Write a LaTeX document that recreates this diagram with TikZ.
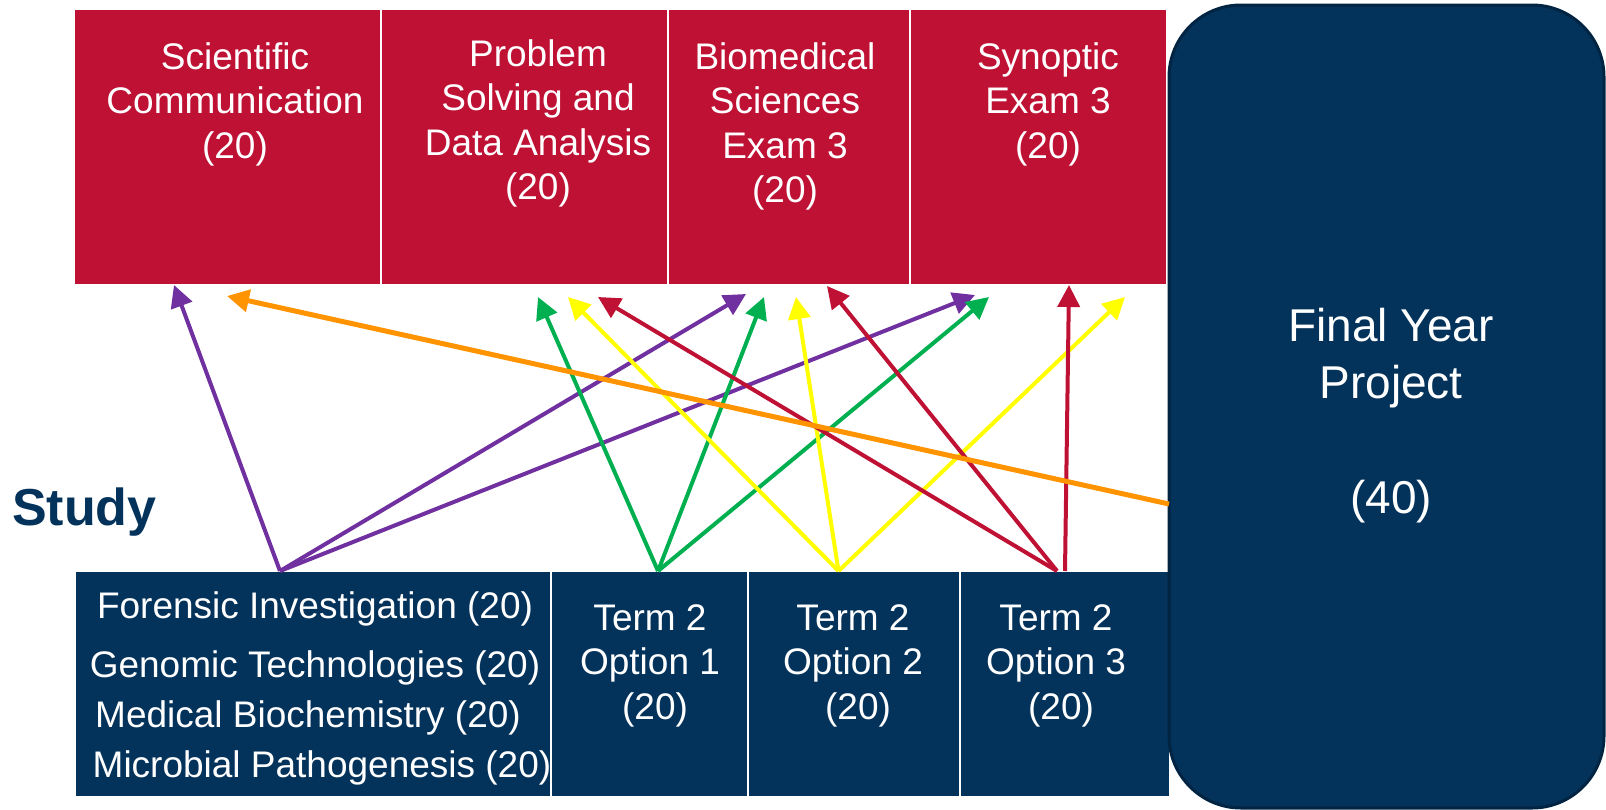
\documentclass[tikz,border=0pt]{standalone}
\usepackage{fontspec}
\setmainfont{Liberation Sans}
\usetikzlibrary{arrows.meta}

\definecolor{navy}{RGB}{3,50,90}
\definecolor{navyline}{RGB}{1,36,66}
\definecolor{crimson}{RGB}{190,17,52}
\definecolor{lnpurple}{RGB}{112,48,160}
\definecolor{lngreen}{RGB}{0,176,80}
\definecolor{lnyellow}{RGB}{255,255,0}
\definecolor{lnorange}{RGB}{255,147,0}

\tikzset{
  modbox/.style={fill=crimson, draw=white, line width=1.5pt, inner sep=0pt, outer sep=0pt},
  optbox/.style={fill=navy, draw=white, line width=1.5pt, inner sep=0pt, outer sep=0pt},
  boxtext/.style={text=white, align=center, anchor=north, inner sep=0pt,
    font=\fontsize{37}{44.5}\selectfont},
  link/.style={line width=4pt, -{Triangle[length=22pt,width=22pt]}},
}

\begin{document}
\begin{tikzpicture}[x=1pt,y=-1pt]
\useasboundingbox (0,0) rectangle (1606,809);
% year three assessments
\node[modbox, minimum width=307pt, minimum height=276pt] (sci) at (227.5,147) {};
\node[modbox, minimum width=287pt, minimum height=276pt] (psda) at (524.5,147) {};
\node[modbox, minimum width=242pt, minimum height=276pt] (bms) at (789,147) {};
\node[modbox, minimum width=257pt, minimum height=276pt] (syn) at (1038.5,147) {};
\node[boxtext] (scitxt) at (235,42) {Scientific\\Communication\\(20)};
\node[boxtext] (psdatxt) at (538,39) {Problem\\Solving and\\Data Analysis\\(20)};
\node[boxtext] (bmstxt) at (785,42) {Biomedical\\Sciences\\Exam 3\\(20)};
\node[boxtext] (syntxt) at (1048,42) {Synoptic\\Exam 3\\(20)};
% modules studied
\node[optbox, minimum width=476pt, minimum height=226pt] (core) at (313,684) {};
\node[optbox, minimum width=197pt, minimum height=226pt] (opt1) at (649.5,684) {};
\node[optbox, minimum width=212pt, minimum height=226pt] (opt2) at (854,684) {};
\node[optbox, minimum width=210pt, minimum height=226pt] (opt3) at (1065,684) {};
\node[boxtext] (coretxt) at (315,591) {Forensic Investigation (20)\\[14.5pt]Genomic Technologies (20)\\[5.5pt]Medical Biochemistry (20)\hspace*{14pt}\null\\[5.5pt]\hspace*{14pt}Microbial Pathogenesis (20)};
\node[boxtext] (opt1txt) at (650,604) {Term 2\\Option 1\\\hspace*{10pt}(20)};
\node[boxtext] (opt2txt) at (853,604) {Term 2\\Option 2\\\hspace*{10pt}(20)};
\node[boxtext] (opt3txt) at (1056,604) {Term 2\\Option 3\\\hspace*{10pt}(20)};
\node[font=\fontsize{52}{60}\selectfont\bfseries, text=navy, anchor=base west, inner sep=0pt] (study) at (12,525) {Study};
% project
\node[fill=navy, draw=navyline, line width=3pt, outer sep=0pt, rounded corners=72pt,
  minimum width=435pt, minimum height=803pt] (fyp) at (1386.5,406.5) {};
\node[boxtext, font=\fontsize{46}{57}\selectfont] (fyptxt) at (1391,308) {Final Year\\Project\\[58pt](40)};
% links
\draw[link, lnpurple] ([xshift=-33pt]core.north) -- ([xshift=-53.5pt]sci.south);
\draw[link, lnpurple] ([xshift=-33pt]core.north) -- ([xshift=-43pt,yshift=-9pt]bms.south);
\draw[link, lnpurple] ([xshift=-33pt]core.north) -- ([xshift=-63.5pt,yshift=-10pt]syn.south);
\draw[link, lngreen] ([xshift=8.5pt]opt1.north) -- ([xshift=13.5pt,yshift=-12pt]psda.south);
\draw[link, lngreen] ([xshift=8.5pt]opt1.north) -- ([xshift=-25pt,yshift=-12pt]bms.south);
\draw[link, lngreen] ([xshift=8.5pt]opt1.north) -- ([xshift=-49.5pt,yshift=-12pt]syn.south);
\draw[link, lnyellow] ([xshift=-15.5pt]opt2.north) -- ([xshift=43.5pt,yshift=-12pt]psda.south);
\draw[link, lnyellow] ([xshift=-15.5pt]opt2.north) -- ([xshift=7pt,yshift=-12pt]bms.south);
\draw[link, lnyellow] ([xshift=-15.5pt]opt2.north) -- ([xshift=86.5pt,yshift=-12pt]syn.south);
\draw[link, crimson] ([xshift=-8pt]opt3.north) -- ([xshift=73.5pt,yshift=-12pt]psda.south);
\draw[link, crimson] ([xshift=-8pt]opt3.north) -- ([xshift=38pt,yshift=-1pt]bms.south);
\draw[link, crimson] (opt3.north) -- ([xshift=30.5pt]syn.south);
\draw[link, lnorange, line width=5pt] ([yshift=-97.5pt]fyp.west) -- ([xshift=-0.5pt,yshift=-11pt]sci.south);
\end{tikzpicture}
\end{document}
